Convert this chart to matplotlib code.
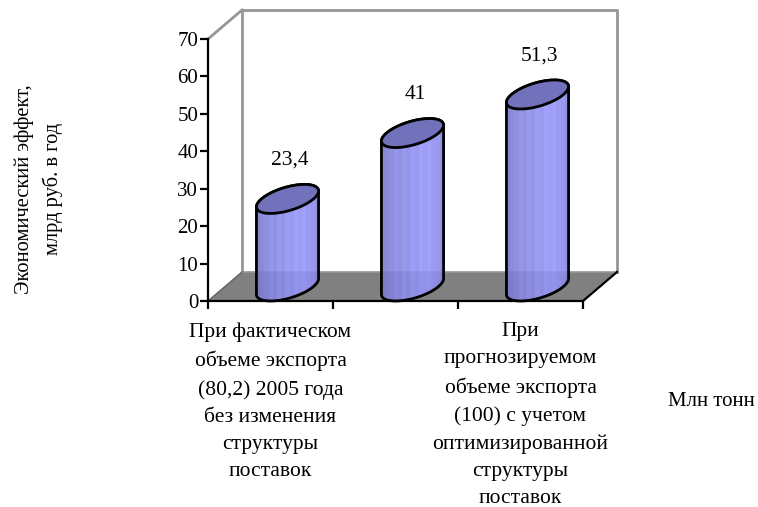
import numpy as np
import matplotlib
matplotlib.use("Agg")
import matplotlib.pyplot as plt
from matplotlib.patches import Polygon

plt.rcParams["font.family"] = ["Liberation Serif", "DejaVu Serif"]

# данные
categories = [
    "При фактическом\nобъеме экспорта\n(80,2) 2005 года\nбез изменения\nструктуры\nпоставок",
    "",
    "При\nпрогнозируемом\nобъеме экспорта\n(100) с учетом\nоптимизированной\nструктуры\nпоставок",
]
values = [23.4, 41, 51.3]
value_labels = ["23,4", "41", "51,3"]
y_ticks = [0, 10, 20, 30, 40, 50, 60, 70]
y_label = "Экономический эффект,\nмлрд руб. в год"
x_unit = "Млн тонн"

# глубина псевдо-3D в единицах осей
depth_x = 34 / 125
depth_y = 29 / 262 * 70
bar_width = 0.416

shades = np.array([
    [122, 122, 204], [126, 126, 212], [130, 130, 218], [138, 138, 230], [134, 134, 224],
    [142, 142, 236], [138, 138, 230], [146, 146, 244], [142, 142, 238], [150, 150, 250],
    [146, 146, 246], [150, 150, 250], [144, 144, 240], [140, 140, 234], [134, 134, 226],
]) / 255

fig = plt.figure(figsize=(7.58, 5.07), dpi=100)
ax = fig.add_axes([208 / 758, 1 - 301 / 507, 375 / 758, 262 / 507])
ax.set_xlim(0, 3)
ax.set_ylim(0, 70)
ax.set_facecolor("none")

# стены и пол
wall_color = "#969696"
ax.plot([depth_x, depth_x, 3 + depth_x, 3 + depth_x],
        [depth_y, 70 + depth_y, 70 + depth_y, depth_y],
        color=wall_color, lw=2, clip_on=False, zorder=1)
ax.plot([0, depth_x], [70, 70 + depth_y], color=wall_color, lw=2, clip_on=False, zorder=1)
floor = Polygon([[0, 0], [3, 0], [3 + depth_x, depth_y], [depth_x, depth_y]],
                closed=True, facecolor="#808080", edgecolor="none", clip_on=False, zorder=1)
ax.add_patch(floor)
ax.plot([depth_x, 3 + depth_x], [depth_y, depth_y], color=wall_color, lw=1.2, clip_on=False, zorder=1.5)
ax.plot([3, 3 + depth_x], [0, depth_y], color="black", lw=1.6, clip_on=False, zorder=1.5)
ax.plot([0, depth_x], [0, depth_y], color="#606060", lw=1, clip_on=False, zorder=1.5)

# цилиндры
t = np.linspace(0, 2 * np.pi, 200)
for i, val in enumerate(values):
    cx = i + 0.5 + depth_x / 2
    a = bar_width / 2
    bx = depth_x / 2
    by = depth_y / 2
    ex = cx + a * np.cos(t) + bx * np.sin(t)
    ey_top = val + by + by * np.sin(t)
    # силуэт: нижняя половина нижнего эллипса + верхний эллипс
    tl = np.arctan2(-bx, -a) % (2 * np.pi)
    tr = np.arctan2(bx, a) % (2 * np.pi)
    t_low = np.linspace(tl, tr + 2 * np.pi if tr < tl else tr, 100)
    low_x = cx + a * np.cos(t_low) + bx * np.sin(t_low)
    low_y = by + by * np.sin(t_low)
    t_up = np.linspace(tr, tl, 100)
    up_x = cx + a * np.cos(t_up) + bx * np.sin(t_up)
    up_y = val + by + by * np.sin(t_up)
    sil = np.column_stack([np.r_[low_x, up_x], np.r_[low_y, up_y]])

    body = Polygon(sil, closed=True, facecolor="none", edgecolor="black", lw=2,
                   clip_on=False, zorder=4, joinstyle="round")
    clip = Polygon(sil, closed=True, transform=ax.transData)
    im = ax.imshow(shades[np.newaxis, :, :], extent=[ex.min(), ex.max(), 0, val + depth_y],
                   aspect="auto", interpolation="nearest", alpha=0.9, zorder=3)
    im.set_clip_path(clip)
    ax.add_patch(body)

    ax.fill(ex, ey_top, facecolor="#7272bc", edgecolor="black", lw=2, clip_on=False, zorder=5)
    ax.text(i + 0.5 + depth_x * 0.57, val + depth_y + 6.5, value_labels[i], ha="center", va="center",
            fontsize=15.5, clip_on=False)

ax.set_xlim(0, 3)
ax.set_ylim(0, 70)

# оси
for side in ["top", "right"]:
    ax.spines[side].set_visible(False)
for side in ["left", "bottom"]:
    ax.spines[side].set_linewidth(1.6)
    ax.spines[side].set_zorder(6)
ax.set_yticks(y_ticks)
ax.set_xticks([0, 1, 2, 3])
ax.set_xticklabels([])
ax.tick_params(axis="both", length=6, width=1.6, labelsize=15, pad=1)
for i, lab in enumerate(categories):
    ax.text(i + 0.5, -5.7, lab, ha="center", va="top", fontsize=15.5, linespacing=1.58, clip_on=False)

fig.text(39 / 758, 1 - 189 / 507, y_label, rotation=90, ha="center", va="center",
         fontsize=14.8, linespacing=1.55, multialignment="center")
fig.text(711 / 758, 1 - 401 / 507, x_unit, ha="center", va="center", fontsize=15)

fig.savefig("out.png", dpi=100)
